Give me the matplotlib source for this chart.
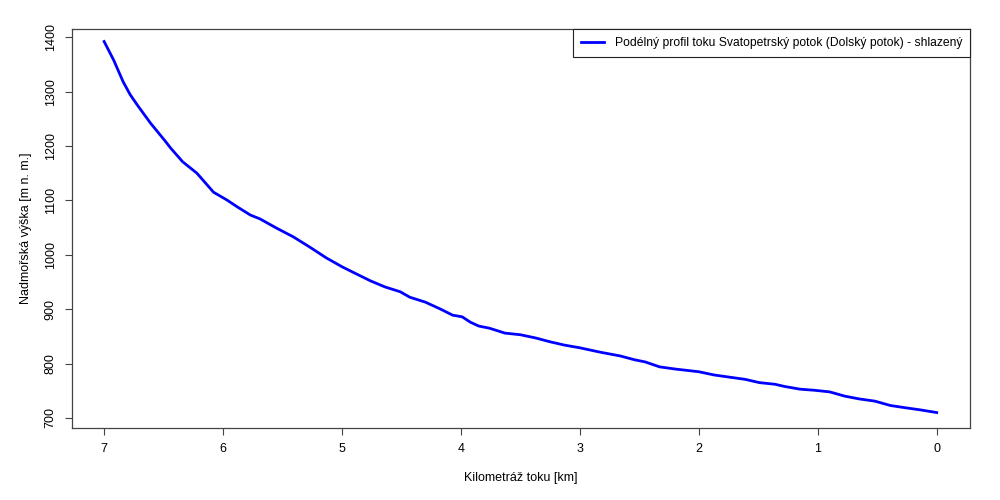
import matplotlib
matplotlib.use("Agg")
import matplotlib.pyplot as plt

plt.rcParams["font.family"] = ["Liberation Sans", "DejaVu Sans"]
plt.rcParams["font.size"] = 9

# river kilometre (from mouth) and smoothed elevation
km = [7.00, 6.92, 6.84, 6.78, 6.72, 6.61, 6.49, 6.44, 6.34, 6.22, 6.08, 5.97,
      5.88, 5.77, 5.69, 5.55, 5.41, 5.27, 5.13, 5.00, 4.89, 4.76, 4.64, 4.51,
      4.43, 4.30, 4.17, 4.07, 3.99, 3.92, 3.85, 3.76, 3.63, 3.50, 3.37, 3.25,
      3.13, 3.00, 2.83, 2.66, 2.54, 2.45, 2.33, 2.20, 2.12, 2.00, 1.87, 1.74,
      1.61, 1.49, 1.36, 1.28, 1.15, 1.03, 0.90, 0.77, 0.65, 0.52, 0.39, 0.27,
      0.14, 0.00]
elev = [1392, 1358, 1318, 1294, 1275, 1242, 1210, 1196, 1171, 1150, 1115, 1101,
        1088, 1073, 1066, 1049, 1033, 1014, 994, 978, 966, 952, 941, 932,
        922, 913, 900, 889, 886, 876, 869, 865, 856, 853, 847, 840,
        834, 829, 821, 814, 807, 803, 794, 790, 788, 785, 779, 775,
        771, 765, 762, 758, 753, 751, 748, 740, 735, 731, 723, 719,
        715, 710]

x_ticks = [7, 6, 5, 4, 3, 2, 1, 0]
y_ticks = [700, 800, 900, 1000, 1100, 1200, 1300, 1400]

fig = plt.figure(figsize=(10, 5), dpi=100)
ax = fig.add_axes([0.072, 0.144, 0.898, 0.798])

ax.plot(km, elev, color="#0000ff", linewidth=2.0, solid_joinstyle="round",
        label="Podélný profil toku Svatopetrský potok (Dolský potok) - shlazený")

ax.set_xlim(7.27, -0.28)
ax.set_ylim(681.6, 1415)
ax.set_xticks(x_ticks)
ax.set_yticks(y_ticks)
ax.set_yticklabels([str(v) for v in y_ticks], rotation=90, va="center")
ax.tick_params(direction="out", length=5, width=0.8, color="#444444", pad=6)

for s in ax.spines.values():
    s.set_color("#444444")
    s.set_linewidth(0.9)

ax.set_xlabel("Kilometráž toku [km]", labelpad=12)
ax.set_ylabel("Nadmořská výška [m n. m.]", labelpad=9)

leg = ax.legend(loc="upper right", fancybox=False, framealpha=1,
                edgecolor="#222222", borderaxespad=0, handlelength=1.9,
                handletextpad=0.9, borderpad=0.65, fontsize=8.7)
leg.get_frame().set_linewidth(0.8)

fig.savefig("out.png", dpi=100)
